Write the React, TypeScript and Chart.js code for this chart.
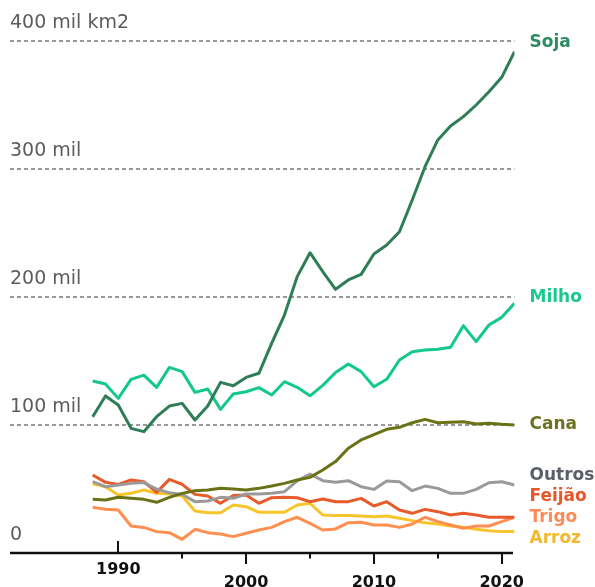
import { useEffect, useRef } from "react";
import { Chart, registerables } from "chart.js";

Chart.register(...registerables);

const years = [
  1988, 1989, 1990, 1991, 1992, 1993, 1994, 1995, 1996, 1997, 1998, 1999, 2000, 2001, 2002, 2003, 2004,
  2005, 2006, 2007, 2008, 2009, 2010, 2011, 2012, 2013, 2014, 2015, 2016, 2017, 2018, 2019, 2020, 2021,
];

const soja = [
  106.5, 122.7, 115.6, 97.4, 94.8, 106.5, 114.8, 116.9, 103.9, 114.8, 133.3, 130.7, 137.2, 140.4, 163.8, 185.9, 215.9,
  234.6, 219.8, 206.0, 213.3, 217.7, 233.6, 240.6, 251.0, 275.8, 301.8, 322.7, 333.6, 340.9, 350.0, 360.4, 371.6, 391.6,
];
const milho = [
  134.4, 132.0, 120.8, 135.7, 139.0, 129.4, 145.0, 141.7, 125.5, 128.1, 112.2, 124.2, 126.0, 129.2, 123.4, 133.8, 129.4,
  122.8, 131.0, 141.0, 147.7, 141.7, 129.9, 135.7, 150.8, 157.3, 158.6, 159.1, 160.7, 177.6, 165.1, 178.1, 184.1, 195.1,
];
const cana = [
  41.9, 41.4, 43.5, 42.7, 41.9, 39.6, 43.5, 46.6, 48.7, 49.2, 50.5, 50.0, 49.2, 50.5, 52.3, 54.4, 57.0,
  59.1, 64.8, 71.4, 81.8, 88.3, 92.5, 96.6, 98.2, 101.8, 104.4, 101.8, 102.1, 102.6, 100.8, 101.3, 100.5, 100.0,
];
const outros = [
  55.7, 51.8, 53.1, 54.4, 55.0, 50.0, 47.0, 45.8, 40.1, 40.6, 43.5, 42.7, 46.1, 46.1, 46.6, 47.9, 56.3,
  61.7, 56.5, 55.2, 56.5, 51.8, 49.7, 56.3, 55.7, 48.7, 52.3, 50.5, 46.6, 46.6, 49.7, 54.9, 55.7, 53.1,
];
const feijao = [
  60.9, 55.2, 53.6, 57.0, 55.7, 47.4, 57.5, 53.6, 45.8, 44.5, 38.8, 45.0, 45.3, 38.8, 43.2, 43.5, 43.2,
  40.1, 42.2, 40.1, 40.1, 42.7, 36.7, 40.1, 33.6, 31.0, 34.1, 32.3, 29.7, 31.0, 29.7, 27.9, 27.9, 27.9,
];
const trigo = [
  35.7, 34.1, 33.6, 21.1, 20.0, 16.7, 15.9, 10.7, 18.5, 15.9, 14.8, 12.8, 15.4, 18.0, 20.0, 24.5, 27.9,
  23.2, 18.0, 18.8, 23.7, 24.0, 21.9, 21.9, 20.0, 22.7, 27.9, 24.5, 21.9, 19.3, 21.1, 21.1, 24.5, 27.9,
];
const arroz = [
  54.0, 51.8, 45.3, 46.6, 49.2, 46.6, 46.1, 44.5, 32.8, 31.5, 31.5, 37.5, 36.2, 31.8, 31.8, 31.8, 37.5,
  38.8, 29.7, 29.2, 29.2, 28.9, 28.4, 28.9, 27.1, 25.3, 23.7, 22.7, 21.1, 20.1, 18.5, 17.4, 16.7, 16.7,
];

const seriesNames = ["Soja", "Milho", "Cana", "Outros", "Feijão", "Trigo", "Arroz"];
const seriesValues = [soja, milho, cana, outros, feijao, trigo, arroz];
const lineColors = ["#2f7d57", "#12c98b", "#6a7216", "#9a9a9a", "#e85a2a", "#ff8f50", "#f7c52a"];
const labelColors = ["#2e8b62", "#19c98e", "#6b7322", "#5b6068", "#e8562b", "#ff8a55", "#f2b92c"];
// value (in the y unit) where each end label is centred
const labelAnchors = [398.4, 199.2, 100, 60.2, 43.8, 27.3, 10.9];

const yTickValues = [0, 100, 200, 300, 400];
const yTickLabels = ["0", "100 mil", "200 mil", "300 mil", "400 mil km2"];
const xTickYears = [1990, 1995, 2000, 2005, 2010, 2015, 2020];
const xLabelYears = [1990, 2000, 2010, 2020];
const upTickYears = [1990];

export default function App() {
  const ref = useRef<HTMLCanvasElement | null>(null);

  useEffect(() => {
    document.body.style.margin = "0";
    const canvas = ref.current;
    if (!canvas) return;

    const decor = {
      id: "decor",
      afterDatasetsDraw(chart: any) {
        const { ctx, chartArea, scales } = chart;
        const xs = scales.x;
        const ys = scales.y;
        const y0 = ys.getPixelForValue(0);
        ctx.save();
        // axis line
        ctx.strokeStyle = "#111";
        ctx.lineWidth = 2.5;
        ctx.beginPath();
        ctx.moveTo(chartArea.left, y0);
        ctx.lineTo(chartArea.right - 1.5, y0);
        ctx.stroke();
        // ticks
        ctx.lineWidth = 2;
        xTickYears.forEach((yr) => {
          const px = Math.round(xs.getPixelForValue(yr));
          const major = yr % 10 === 0;
          const up = upTickYears.includes(yr);
          ctx.beginPath();
          if (up) {
            ctx.moveTo(px, y0);
            ctx.lineTo(px, y0 - 12);
          } else {
            ctx.moveTo(px, y0);
            ctx.lineTo(px, y0 + (major ? 11 : 5.5));
          }
          ctx.stroke();
        });
        // tick labels
        ctx.fillStyle = "#111";
        ctx.font = "bold 16px 'DejaVu Sans'";
        ctx.textAlign = "center";
        ctx.textBaseline = "alphabetic";
        xLabelYears.forEach((yr) => {
          const px = xs.getPixelForValue(yr);
          const up = upTickYears.includes(yr);
          ctx.fillText(String(yr), px, up ? y0 + 20.5 : y0 + 33.5);
        });
        // end labels
        ctx.font = "bold 17px 'DejaVu Sans'";
        ctx.textAlign = "left";
        ctx.textBaseline = "middle";
        seriesNames.forEach((name, i) => {
          ctx.fillStyle = labelColors[i];
          ctx.fillText(name, chartArea.right + 15, ys.getPixelForValue(labelAnchors[i]));
        });
        ctx.restore();
      },
    };

    const chart = new Chart(canvas, {
      type: "line",
      data: {
        datasets: seriesNames.map((name, i) => ({
          label: name,
          data: years.map((yr, j) => ({ x: yr, y: seriesValues[i][j] })),
          borderColor: lineColors[i],
          backgroundColor: lineColors[i],
          borderWidth: 3,
          pointRadius: 0,
          tension: 0,
          fill: false,
          borderJoinStyle: "round" as const,
          order: i,
        })),
      },
      options: {
        responsive: false,
        animation: false,
        layout: { padding: { left: 10, top: 41, right: 80.5, bottom: 34 } },
        plugins: { legend: { display: false }, tooltip: { enabled: false } },
        scales: {
          x: {
            type: "linear",
            min: 1981.53,
            max: 2021,
            display: false,
          },
          y: {
            type: "linear",
            min: 0,
            max: 400,
            afterFit: (scale: any) => {
              scale.width = 0;
            },
            border: { display: false, dash: [4, 3] },
            grid: {
              drawTicks: false,
              lineWidth: 2,
              color: (c: any) => (c.tick && c.tick.value === 0 ? "rgba(0,0,0,0)" : "#999999"),
            },
            afterBuildTicks: (scale: any) => {
              scale.ticks = yTickValues.map((v) => ({ value: v }));
            },
            ticks: {
              mirror: true,
              padding: 0,
              labelOffset: -17.5,
              color: "#5c5c5c",
              font: { family: "'DejaVu Sans'", size: 19 },
              callback: (v: any) => {
                const idx = yTickValues.indexOf(Number(v));
                return idx >= 0 ? yTickLabels[idx] : "";
              },
            },
          },
        },
      },
      plugins: [decor],
    });

    return () => chart.destroy();
  }, []);

  return (
    <div style={{ width: 595, height: 587, background: "#fff" }}>
      <canvas ref={ref} width={595} height={587} style={{ display: "block" }} />
    </div>
  );
}
